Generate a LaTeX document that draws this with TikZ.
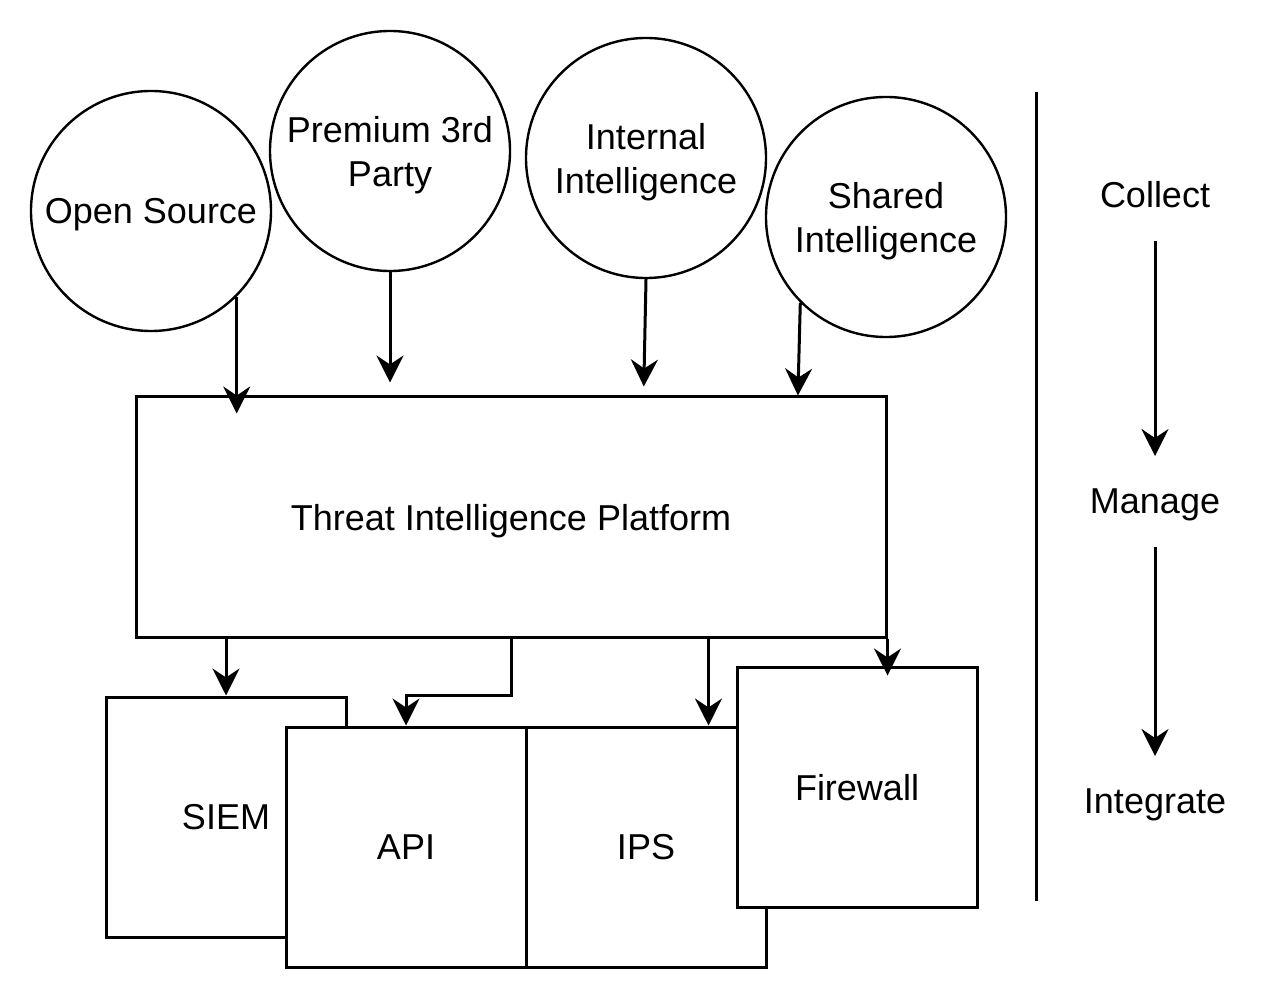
\documentclass[tikz,border=0pt]{standalone}
\usepackage{fontspec}
\setmainfont{Liberation Sans}
\usetikzlibrary{arrows.meta}

\begin{document}
\begin{tikzpicture}[x=0.5pt, y=-0.5pt,
        font=\fontsize{18}{22}\selectfont,
        every node/.append style = {text depth=0pt},
        src/.style = {draw, circle, line width=1.2pt, minimum size=120pt, inner sep=0pt, align=center},
        box/.style = {draw, rectangle, line width=1.5pt, fill=white, minimum width=120pt, minimum height=120pt},
        arr/.style = {-{Stealth[length=13.5pt, width=13.5pt, inset=4.5pt]}, line width=1.5pt}]
        \useasboundingbox (0,0) rectangle (1278,999);
        % sources
        \node[src] (os) at (151,211) {Open Source};
        \node[src] (p3) at (390,151) {Premium 3rd\\Party};
        \node[src] (in) at (646,158) {Internal\\Intelligence};
        \node[src] (sh) at (886,217) {Shared\\Intelligence};
        % platform
        \node[box, minimum width=375pt] (tip) at (511,517) {Threat Intelligence Platform};
        % integrations
        \node[box] (siem) at (226,817) {SIEM};
        \node[box] (api) at (406,847) {API};
        \node[box] (ips) at (646,847) {IPS};
        \node[box] (fw) at (857,787) {Firewall};
        % phases
        \node (col) at (1155,194) {Collect};
        \node (man) at (1155,501) {Manage};
        \node (int) at (1155,801) {Integrate};
        \draw[line width=1.5pt] (1036,92) -- (1036,901);
        % arrows
        \coordinate (inend) at ([xshift=-1.2pt]in.south);
        \coordinate (shend) at ([xshift=-1.2pt]sh.-135);
        \coordinate (ipsin) at ([xshift=-29.5pt]ips.north east);
        \draw[arr, shorten >=-9pt] (os.-45) -- (os.-45 |- tip.north);
        \draw[arr, shorten >=6.5pt] (p3.south) -- (p3.south |- tip.north);
        \draw[arr, shorten >=4.5pt] (in.south) -- (inend |- tip.north);
        \draw[arr] (sh.-135) -- (shend |- tip.north);
        \draw[arr] (siem.north |- tip.south) -- (siem.north);
        \draw[arr] (tip.south) -- (tip.south |- siem.north) -| (api.north);
        \draw[arr] (ipsin |- tip.south) -- (ipsin);
        \draw[arr, shorten >=-5pt] (tip.south east) -- (tip.south east |- fw.north);
        \draw[arr, shorten <=23.5pt, shorten >=22.5pt] (col.center) -- (man.center);
        \draw[arr, shorten <=23pt, shorten >=22.5pt] (man.center) -- (int.center);
\end{tikzpicture}
\end{document}
